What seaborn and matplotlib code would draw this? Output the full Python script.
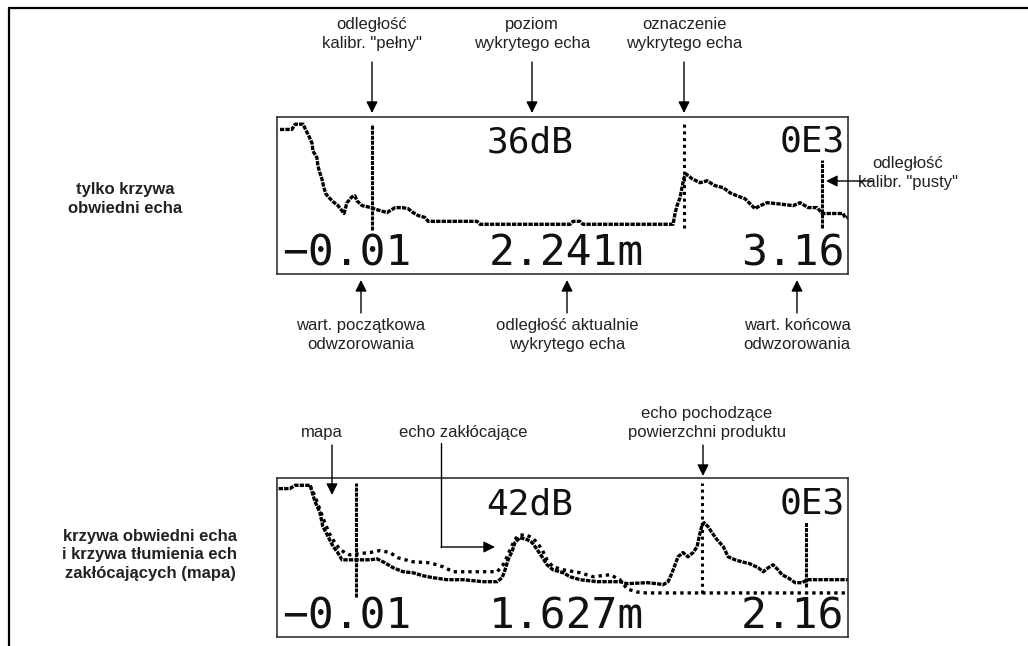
import matplotlib
matplotlib.use("Agg")
import matplotlib.pyplot as plt
import pandas as pd
import seaborn as sns

# LCD is treated as a 173 x 48 dot grid: curves are (column, row) pairs
top_env_cols = [0.9, 4.5, 5.5, 7.9, 8.5, 9.7, 10.6, 10.9, 12.1, 12.4, 13.0, 13.6, 14.2, 14.8,
                15.8, 17.0, 18.5, 19.4, 20.3, 21.2, 22.7, 23.6, 24.2, 25.8, 27.3, 31.2, 33.3,
                35.8, 37.9, 39.7, 41.2, 42.7, 44.8, 45.8, 60.6, 61.5, 88.8, 89.7, 91.8, 92.7,
                120.0, 120.6, 121.2, 122.1, 122.7, 123.3, 123.9, 125.8, 128.2, 130.3, 132.7,
                135.2, 137.3, 139.4, 141.8, 143.3, 144.8, 146.4, 148.5, 151.5, 156.4, 158.5,
                160.9, 163.6, 165.2, 171.5, 172.1, 173.0]
top_env_rows = [44.2, 44.2, 45.8, 45.8, 44.5, 42.1, 40.0, 37.6, 35.5, 33.0, 30.9, 29.1, 26.4, 24.5,
                23.3, 22.1, 20.9, 19.7, 18.5, 21.8, 23.6, 23.9, 22.4, 20.9, 20.6, 19.4, 18.8,
                20.3, 20.3, 20.0, 18.8, 17.9, 17.3, 16.1, 16.1, 15.2, 15.2, 16.1, 16.1, 15.2,
                15.2, 18.5, 20.9, 23.3, 26.4, 29.4, 30.6, 29.1, 27.9, 28.5, 27.0,
                26.4, 24.8, 23.9, 23.0, 21.5, 20.0, 20.9, 21.8, 21.5, 20.9, 21.8,
                20.3, 20.3, 18.5, 18.5, 17.3, 17.3]

bot_env_cols = [0.5, 3.9, 5.5, 10.0, 10.6, 11.5, 13.0, 13.9, 15.5, 17.0, 18.2, 19.7, 24.2, 28.2,
                30.3, 32.7, 35.2, 38.2, 41.2, 44.2, 47.3, 51.5, 56.4, 62.4, 66.7, 68.2, 69.1,
                70.0, 71.2, 72.1, 73.6, 75.8, 77.3, 78.8, 80.3, 81.8, 83.6, 86.7, 88.8, 91.8,
                97.0, 103.9, 106.1, 112.1, 115.2, 117.0, 118.5, 119.7, 120.6, 121.5, 123.0,
                124.5, 126.1, 127.3, 127.9, 128.8, 129.4, 130.6, 131.8, 133.3, 135.2, 136.7,
                138.8, 140.9, 143.3, 145.8, 147.3, 148.8, 150.3, 151.8, 153.0, 154.8, 157.0,
                159.1, 160.6, 171.2, 173.0]
bot_env_rows = [44.8, 44.8, 45.8, 45.8, 43.9, 40.9, 37.6, 33.3, 30.3, 27.3, 25.8, 23.3, 23.3, 23.3,
                23.6, 22.4, 20.9, 19.7, 19.4, 18.5, 17.9, 17.3, 17.3, 16.7, 16.7, 17.9, 20.3,
                23.3, 25.8, 28.5, 30.0, 29.4, 28.5, 26.4, 24.2, 21.8, 20.3, 19.4, 18.2, 17.3,
                16.7, 16.7, 16.1, 16.4, 16.1, 15.8, 16.7, 19.4, 21.8, 24.2, 25.5,
                24.2, 25.5, 27.3, 30.3, 33.9, 34.5, 33.3, 31.5, 29.4, 27.3, 24.2,
                23.3, 22.7, 22.1, 20.9, 19.7, 20.9, 21.8, 20.3, 18.8, 17.9, 16.4,
                16.4, 17.3, 17.3, 17.3]

map_cols = [10.0, 11.5, 13.0, 14.5, 16.0, 17.5, 19.0, 20.5, 22.1, 25.2, 28.2, 31.2, 34.2, 36.7,
            41.2, 46.4, 50.3, 53.3, 66.7, 68.5, 69.7, 70.9, 72.1, 73.0, 75.2, 77.3, 78.8, 80.3,
            81.8, 83.6, 86.7, 91.8, 95.8, 100.9, 103.9, 106.1, 109.0, 112.0, 173.0]
map_rows = [45.8, 42.5, 38.5, 34.5, 31.0, 28.5, 26.5, 25.5, 24.8, 25.2, 25.5, 26.1, 25.5, 23.9,
            22.7, 22.4, 21.2, 19.7, 19.7, 21.8, 24.2, 27.0, 29.4, 30.6, 30.9, 30.0, 28.5, 26.4,
            23.3, 21.2, 20.3, 19.4, 18.2, 18.8, 17.3, 14.5, 13.6, 13.3, 13.3]

# vertical markers: (column, top row, bottom row)
top_cal_full = (28.8, 46.0, 13.3)
top_echo_mark = (123.3, 46.0, 14.0)
top_cal_empty = (165.2, 35.0, 14.0)
bot_cal_full = (23.9, 46.4, 12.1)
bot_echo_mark = (128.8, 46.4, 13.3)
bot_cal_empty = (160.3, 34.8, 15.2)

# display texts
top_level, bot_level = "36dB", "42dB"
top_range = ["\u22120.01", "2.241m", "3.16"]
bot_range = ["\u22120.01", "1.627m", "2.16"]
status = "0E3"

sns.set_theme(style="white")
plt.rcParams["font.family"] = ["Liberation Sans", "DejaVu Sans"]

fig = plt.figure(figsize=(10.28, 6.46), dpi=100)
W, H = 1028, 646


def lcd_axes(top, bottom):
    ax = fig.add_axes([277 / W, 1 - bottom / H, 571 / W, (bottom - top) / H])
    ax.set_xlim(0, 173)
    ax.set_ylim(0, 48)
    ax.set_xticks([])
    ax.set_yticks([])
    for sp in ax.spines.values():
        sp.set_color("#333333")
        sp.set_linewidth(1.2)
    return ax


def draw_curve(ax, cols, rows, dash):
    df = pd.DataFrame({"col": cols, "row": rows})
    sns.lineplot(data=df, x="col", y="row", ax=ax, color="black", lw=2.4,
                 sort=False, estimator=None)
    ax.lines[-1].set_linestyle((0, dash))
    ax.set_xlabel("")
    ax.set_ylabel("")


def draw_marker(ax, m, dash):
    ax.vlines(m[0], m[2], m[1], color="black", lw=2.2, linestyles=[(0, dash)])


def lcd_text(ax, level, rng):
    mono = dict(family="DejaVu Sans Mono", color="#111111")
    ax.text(76.7, 37.0, level, ha="center", va="baseline", fontsize=26, **mono)
    ax.text(172, 37.3, status, ha="right", va="baseline", fontsize=26, **mono)
    ax.text(1.5, 2.7, rng[0], ha="left", va="baseline", fontsize=31, **mono)
    ax.text(87.6, 2.7, rng[1], ha="center", va="baseline", fontsize=31, **mono)
    ax.text(172, 2.7, rng[2], ha="right", va="baseline", fontsize=31, **mono)


dense = (1.3, 0.35)
sparse = (1.0, 1.2)

ax1 = lcd_axes(117, 274)
draw_curve(ax1, top_env_cols, top_env_rows, dense)
draw_marker(ax1, top_cal_full, dense)
draw_marker(ax1, top_echo_mark, sparse)
draw_marker(ax1, top_cal_empty, dense)
lcd_text(ax1, top_level, top_range)

ax2 = lcd_axes(478, 637)
draw_curve(ax2, map_cols, map_rows, sparse)
draw_curve(ax2, bot_env_cols, bot_env_rows, dense)
draw_marker(ax2, bot_cal_full, dense)
draw_marker(ax2, bot_echo_mark, sparse)
draw_marker(ax2, bot_cal_empty, dense)
lcd_text(ax2, bot_level, bot_range)

# overlay in pixel coordinates for frame, labels and arrows
ov = fig.add_axes([0, 0, 1, 1])
ov.set_xlim(0, W)
ov.set_ylim(H, 0)
ov.axis("off")

ov.plot([9, W], [8, 8], color="black", lw=1.6)
ov.plot([9, 9], [8, H], color="black", lw=1.6)

arrow = dict(arrowstyle="-|>", color="black", lw=1.0, mutation_scale=17, shrinkA=0, shrinkB=0)
txt = dict(fontsize=12, color="#222222", ha="center", va="center", linespacing=1.3)


def label(x, y, s, tail, tip):
    ov.text(x, y, s, **txt)
    ov.annotate("", xy=tip, xytext=tail, arrowprops=arrow)


label(372, 34, "odległość\nkalibr. \"pełny\"", (372, 62), (372, 113))
label(532, 34, "poziom\nwykrytego echa", (532, 62), (532, 113))
label(684, 34, "oznaczenie\nwykrytego echa", (684, 62), (684, 113))
label(908, 173, "odległość\nkalibr. \"pusty\"", (872, 181), (826, 181))
label(361, 335, "wart. początkowa\nodwzorowania", (361, 313), (361, 280))
label(567, 335, "odległość aktualnie\nwykrytego echa", (567, 313), (567, 280))
label(797, 335, "wart. końcowa\nodwzorowania", (797, 313), (797, 280))

label(322, 433, "mapa", (332, 445), (332, 495))
ov.text(463, 433, "echo zakłócające", **txt)
ov.plot([441, 441], [443, 547], color="black", lw=1.0)
ov.annotate("", xy=(495, 547), xytext=(441, 547), arrowprops=arrow)
label(707, 423, "echo pochodzące\npowierzchni produktu", (703, 445), (703, 476))

bold = dict(fontsize=12, fontweight="bold", color="#222222", ha="center", va="center",
            linespacing=1.3)
ov.text(125, 199, "tylko krzywa\nobwiedni echa", **bold)
ov.text(150, 555, "krzywa obwiedni echa\ni krzywa tłumienia ech\nzakłócających (mapa)", **bold)

fig.savefig("out.png", dpi=100)
